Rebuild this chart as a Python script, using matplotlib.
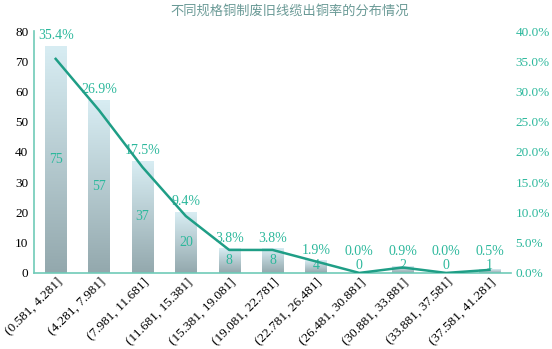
import numpy as np
import matplotlib.pyplot as plt
from matplotlib.colors import LinearSegmentedColormap

categories = ['(0.581, 4.281]', '(4.281, 7.981]', '(7.981, 11.681]', '(11.681, 15.381]',
              '(15.381, 19.081]', '(19.081, 22.781]', '(22.781, 26.481]', '(26.481, 30.881]',
              '(30.881, 33.881]', '(33.881, 37.581]', '(37.581, 41.281]']
counts = [75, 57, 37, 20, 8, 8, 4, 0, 2, 0, 1]
pct = [35.4, 26.9, 17.5, 9.4, 3.8, 3.8, 1.9, 0.0, 0.9, 0.0, 0.5]
title = '不同规格铜制废旧线缆出铜率的分布情况'

serif = ['Liberation Serif', 'Noto Sans CJK SC']
plt.rcParams['font.family'] = serif

teal = '#1f9e86'
teal_txt = '#2cb89c'
spine_c = '#6fcbb8'

fig = plt.figure(figsize=(5.52, 3.49), dpi=100)
ax = fig.add_axes([0.0616, 0.218, 0.8644, 0.693])
ax2 = ax.twinx()

x = np.arange(len(categories))
w = 0.49
cmap = LinearSegmentedColormap.from_list('bar', ['#93a8ad', '#d8edf3'])
grad = np.linspace(0, 1, 256).reshape(-1, 1)
for xi, v in zip(x, counts):
    if v > 0:
        ax.imshow(grad, cmap=cmap, origin='lower', aspect='auto',
                  extent=(xi - w / 2, xi + w / 2, 0, v), zorder=1)
    ax.text(xi, max(v / 2, 2.3), str(v), ha='center', va='center',
            color=teal_txt, fontsize=10, zorder=3)

ax.set_xlim(-0.5, len(categories) - 0.5)
ax.set_ylim(0, 80)
ax.set_yticks(range(0, 81, 10))
ax.set_xticks(x)
ax.set_xticklabels(categories, rotation=45, ha='right', va='top',
                   rotation_mode='anchor')
ax.tick_params(length=0, labelsize=9.5, pad=4)
ax.tick_params(axis='x', pad=2, labelsize=9.5)

ax2.plot(x, pct, color=teal, lw=1.8, zorder=4)
ax2.set_ylim(0, 40)
ax2.set_yticks(range(0, 41, 5))
ax2.set_yticklabels([f'{t:.1f}%' for t in range(0, 41, 5)], color=teal_txt)
ax2.tick_params(length=0, labelsize=9.5, pad=3)

for xi, v, p in zip(x, counts, pct):
    top = max(v, p * 2, 3.6)
    ax.annotate(f'{p:.1f}%', (xi, top), xytext=(0, 3), textcoords='offset points',
                ha='center', va='bottom', color=teal_txt, fontsize=10, zorder=5)

for a in (ax, ax2):
    for s in ('top', 'right', 'left', 'bottom'):
        a.spines[s].set_visible(False)
for s in ('left', 'bottom'):
    ax.spines[s].set_visible(True)
    ax.spines[s].set_color(spine_c)
    ax.spines[s].set_linewidth(1.2)

fig.text(0.525, 0.968, title, ha='center', va='center', fontsize=9.5,
         color='#6a9a96', family=serif)

fig.savefig('out.png', dpi=100)
